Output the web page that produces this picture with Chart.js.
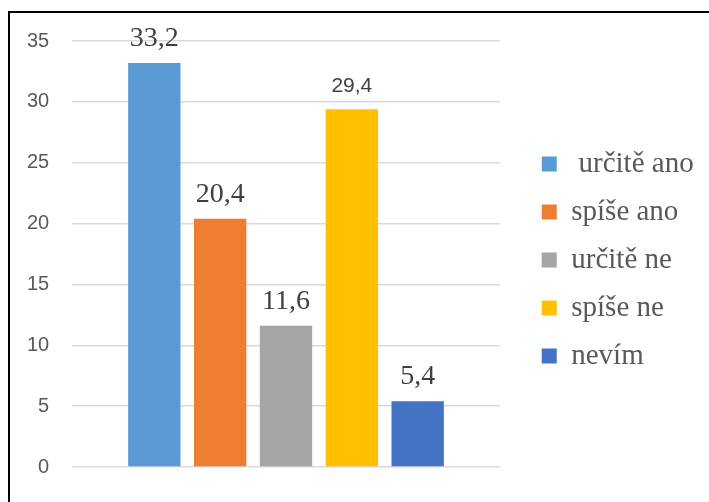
<!DOCTYPE html>
<html>
<head>
<meta charset="utf-8">
<script src="https://cdn.jsdelivr.net/npm/chart.js@4/dist/chart.umd.min.js"></script>
<style>
  html, body { margin: 0; padding: 0; background: #fff; overflow: hidden; }
  #wrap { position: relative; width: 709px; height: 502px; }
  #frame {
    position: absolute; left: 8px; top: 11px; width: 800px; height: 600px;
    border-left: 2px solid #000; border-top: 2px solid #000;
  }
  #chart { position: absolute; left: 0; top: 0; }
</style>
</head>
<body>
<div id="wrap">
  <div id="frame"></div>
  <canvas id="chart" width="709" height="502"></canvas>
</div>
<script>
// answers and their shares (%)
const answers = [' určitě ano', 'spíše ano', 'určitě ne', 'spíše ne', 'nevím'];
const shares = [33.2, 20.4, 11.6, 29.4, 5.4];
const yTickStep = 5;
const yMax = 35;

const barColors = ['#5B9BD5', '#ED7D31', '#A5A5A5', '#FFC000', '#4472C4'];
// value labels: most in a serif face, one in sans
const valueFonts = [
    '28px "Liberation Serif", "Times New Roman", serif',
    '28px "Liberation Serif", "Times New Roman", serif',
    '28px "Liberation Serif", "Times New Roman", serif',
    '21px "Liberation Sans", Arial, sans-serif',
    '28px "Liberation Serif", "Times New Roman", serif'
];

// one dataset per answer so each gets its own legend entry
const datasets = answers.map((name, i) => ({
    label: name,
    data: [shares[i]],
    backgroundColor: barColors[i],
    borderWidth: 0
}));

// write the value above each bar, with a decimal comma
const valueLabels = {
    id: 'valueLabels',
    afterDatasetsDraw(chart) {
        const ctx = chart.ctx;
        ctx.save();
        ctx.fillStyle = '#404040';
        ctx.textAlign = 'center';
        ctx.textBaseline = 'alphabetic';
        chart.data.datasets.forEach((ds, i) => {
            const bar = chart.getDatasetMeta(i).data[0];
            ctx.font = valueFonts[i];
            ctx.fillText(String(ds.data[0]).replace('.', ','), bar.x, bar.y - 17);
        });
        ctx.restore();
    }
};

// leave some air between the plot and the legend
const legendGap = {
    id: 'legendGap',
    afterLayout(chart) {
        chart.legend.left += 23;
        chart.legend.right += 60;
    }
};

const ctx = document.getElementById('chart').getContext('2d');
new Chart(ctx, {
    type: 'bar',
    data: { labels: [''], datasets: datasets },
    options: {
        responsive: false,
        animation: false,
        categoryPercentage: 0.77,
        barPercentage: 0.795,
        layout: { padding: { left: 4, right: 44, top: 41, bottom: 23 } },
        scales: {
            x: { display: false },
            y: {
                min: 0,
                max: yMax,
                ticks: {
                    stepSize: yTickStep,
                    padding: 23,
                    color: '#595959',
                    font: { family: '"Liberation Sans", Arial, sans-serif', size: 20 }
                },
                grid: { color: '#d9d9d9', lineWidth: 1.5, drawTicks: false },
                border: { display: false }
            }
        },
        plugins: {
            legend: {
                position: 'right',
                labels: {
                    boxWidth: 15,
                    boxHeight: 15,
                    padding: 19,
                    color: '#595959',
                    font: { family: '"Liberation Serif", "Times New Roman", serif', size: 29 }
                }
            },
            tooltip: { enabled: false }
        }
    },
    plugins: [valueLabels, legendGap]
});
</script>
</body>
</html>
